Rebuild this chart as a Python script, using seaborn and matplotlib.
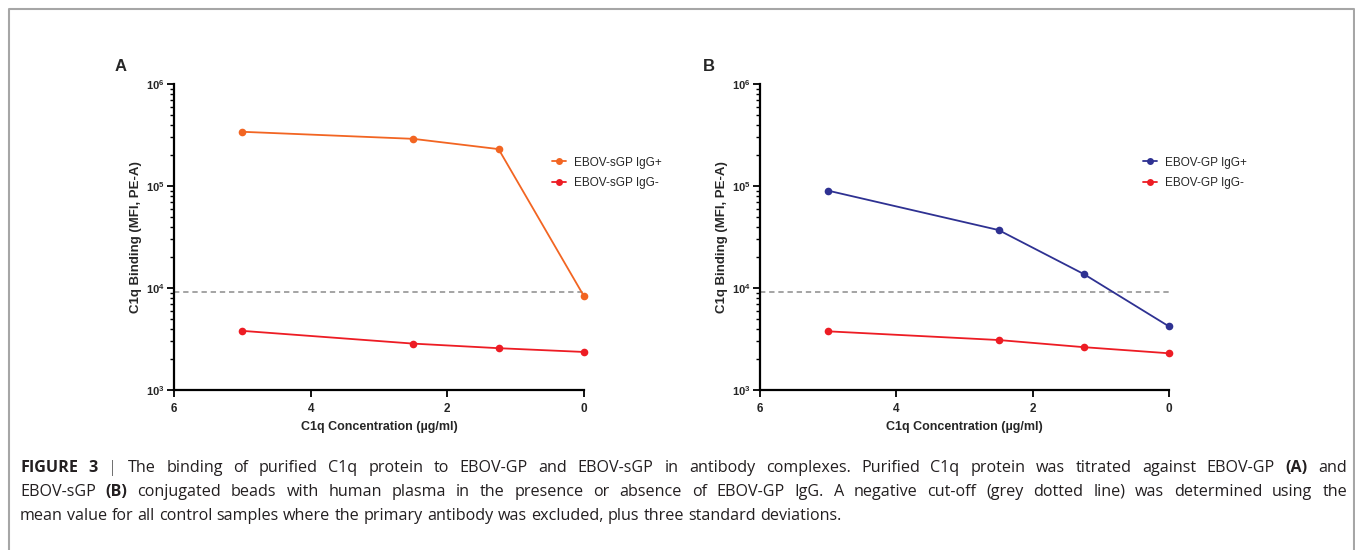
import matplotlib
matplotlib.use("Agg")
import matplotlib.pyplot as plt
import matplotlib.ticker as mticker
from matplotlib import font_manager
import seaborn as sns
import pandas as pd
import numpy as np

# ---------------- data ----------------
conc = [5, 2.5, 1.25, 0]
a_pos = [3.4e5, 2.9e5, 2.3e5, 8.3e3]     # EBOV-sGP IgG+
a_neg = [3.8e3, 2.85e3, 2.57e3, 2.36e3]  # EBOV-sGP IgG-
b_pos = [9.0e4, 3.7e4, 1.37e4, 4.2e3]    # EBOV-GP IgG+
b_neg = [3.76e3, 3.09e3, 2.63e3, 2.29e3] # EBOV-GP IgG-
cutoff = 9.2e3
a_labels = ["EBOV-sGP IgG+", "EBOV-sGP IgG-"]
b_labels = ["EBOV-GP IgG+", "EBOV-GP IgG-"]
x_ticks = [6, 4, 2, 0]
y_ticks = [1e3, 1e4, 1e5, 1e6]
xlabel = "C1q Concentration (\u00b5g/ml)"
ylabel = "C1q Binding (MFI, PE-A)"

ORANGE = "#F26522"
RED = "#ED1C24"
BLUE = "#2E3192"

sns.set_theme(style="ticks")
names = {f.name for f in font_manager.fontManager.ttflist}
SANS = "Liberation Sans" if "Liberation Sans" in names else "DejaVu Sans"
CAP_FONT = "Open Sans" if "Open Sans" in names else SANS
plt.rcParams["font.family"] = [SANS, "DejaVu Sans"]
plt.rcParams["mathtext.fontset"] = "custom"
plt.rcParams["mathtext.rm"] = SANS + ":bold"
plt.rcParams["mathtext.bf"] = SANS + ":bold"
plt.rcParams["mathtext.it"] = SANS + ":bold"

W, H = 1355, 550
fig = plt.figure(figsize=(W / 100, H / 100), dpi=100)

def px_axes(l, r, t, b):
    return fig.add_axes([l / W, 1 - b / H, (r - l) / W, (b - t) / H])

axA = px_axes(174, 584, 84, 390)
axB = px_axes(760, 1169, 84, 390)

def panel(ax, pos, neg, labels, pos_color, leg_xy):
    df = pd.DataFrame({
        "conc": conc * 2,
        "mfi": pos + neg,
        "series": [labels[0]] * len(conc) + [labels[1]] * len(conc),
    })
    sns.lineplot(data=df, x="conc", y="mfi", hue="series",
                 palette={labels[0]: pos_color, labels[1]: RED},
                 marker="o", markersize=5.5, markeredgewidth=0,
                 linewidth=1.3, ax=ax, legend=False, sort=False, clip_on=False)
    ax.axhline(cutoff, color="#8c8c8c", linestyle=(0, (3.5, 2.5)), linewidth=1.1, zorder=0)
    ax.set_yscale("log")
    ax.set_ylim(1e3, 1e6)
    ax.set_xlim(6, 0)
    ax.set_xticks(x_ticks)
    ax.set_xticklabels([str(t) for t in x_ticks], fontsize=8.5, fontweight="bold")
    ax.set_yticks(y_ticks)
    ax.set_yticklabels([r"$\mathbf{10^{%d}}$" % int(np.log10(v)) for v in y_ticks], fontsize=8)
    ax.yaxis.set_minor_locator(mticker.LogLocator(base=10, subs=np.arange(2, 10)))
    ax.yaxis.set_minor_formatter(mticker.NullFormatter())
    ax.tick_params(axis="both", which="major", length=5, width=1.3, color="black", pad=2)
    ax.tick_params(axis="y", which="minor", length=3, width=1.0, color="black")
    ax.tick_params(axis="x", which="major", pad=4)
    for s in ["top", "right"]:
        ax.spines[s].set_visible(False)
    for s in ["left", "bottom"]:
        ax.spines[s].set_linewidth(1.6)
        ax.spines[s].set_color("black")
    ax.set_xlabel(xlabel, fontsize=9, fontweight="bold", labelpad=5)
    ax.set_ylabel(ylabel, fontsize=9.5, fontweight="bold", labelpad=2.5)
    ax.set_facecolor("none")
    handles = [plt.Line2D([], [], color=pos_color, marker="o", markersize=5, markeredgewidth=0, linewidth=1.3),
               plt.Line2D([], [], color=RED, marker="o", markersize=5, markeredgewidth=0, linewidth=1.3)]
    fig.legend(handles, labels, loc="center left",
               bbox_to_anchor=(leg_xy[0] / W, 1 - leg_xy[1] / H),
               frameon=False, fontsize=8.5, handlelength=1.15, handletextpad=0.75,
               labelspacing=0.75, borderpad=0, borderaxespad=0)

panel(axA, a_pos, a_neg, a_labels, ORANGE, (552, 173))
panel(axB, b_pos, b_neg, b_labels, BLUE, (1143, 173))

fig.text(115 / W, 1 - 71 / H, "A", fontsize=12, fontweight="bold", va="baseline", ha="left")
fig.text(703 / W, 1 - 71 / H, "B", fontsize=12, fontweight="bold", va="baseline", ha="left")

# border (left, top, right)
fig.add_artist(plt.Line2D([9 / W, 9 / W, 1353.5 / W, 1353.5 / W],
                          [0, 1 - 8.5 / H, 1 - 8.5 / H, 0],
                          transform=fig.transFigure, color="#a6a6a6", linewidth=1.5))

# caption with justified lines
CAP_COLOR = "#231F20"
CAP_SIZE = 11.6
lines = [
    ("FIGURE 3 | The binding of purified C1q protein to EBOV-GP and EBOV-sGP in antibody complexes. Purified C1q protein was titrated against EBOV-GP (A) and", True),
    ("EBOV-sGP (B) conjugated beads with human plasma in the presence or absence of EBOV-GP IgG. A negative cut-off (grey dotted line) was determined using the", True),
    ("mean value for all control samples where the primary antibody was excluded, plus three standard deviations.", False),
]
bold_words = {"FIGURE", "3", "(A)", "(B)"}
baselines = [472, 496, 520]
x0, x1 = 20, 1347
renderer = fig.canvas.get_renderer()
tmp1 = fig.text(0, 0, "a b", fontsize=CAP_SIZE, family=[CAP_FONT])
tmp2 = fig.text(0, 0, "ab", fontsize=CAP_SIZE, family=[CAP_FONT])
natural_gap = tmp1.get_window_extent(renderer).width - tmp2.get_window_extent(renderer).width
tmp1.remove(); tmp2.remove()
for li, ((line, justify), yb) in enumerate(zip(lines, baselines)):
    words = line.split(" ")
    arts = []
    for w in words:
        bold = w in bold_words and li < 2
        if w == "|":
            t = fig.text(0, 1 - yb / H, w, fontsize=CAP_SIZE, color="#444444",
                         family=[CAP_FONT], fontweight="light", va="baseline", ha="left")
        else:
            t = fig.text(0, 1 - yb / H, w, fontsize=CAP_SIZE, color=CAP_COLOR,
                         family=[CAP_FONT], fontweight="bold" if bold else "normal",
                         va="baseline", ha="left")
        arts.append(t)
    widths = [a.get_window_extent(renderer).width for a in arts]
    if justify:
        gap = (x1 - x0 - sum(widths)) / (len(words) - 1)
    else:
        gap = natural_gap
    x = x0
    for a, w in zip(arts, widths):
        a.set_x(x / W)
        x += w + gap

fig.savefig("out.png", dpi=100, facecolor="white")
